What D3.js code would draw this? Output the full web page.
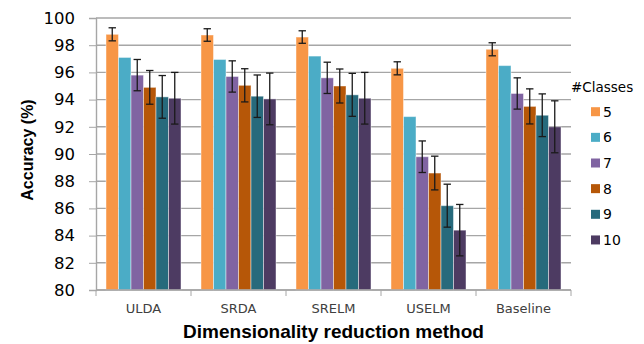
<!DOCTYPE html>
<html>
<head>
<meta charset="utf-8">
<script src="https://cdn.jsdelivr.net/npm/d3@7"></script>
<style>
  body { margin: 0; background: #fff; }
  svg { display: block; }
</style>
</head>
<body>
<div id="chart"></div>
<script>
// methods on the x axis
const methods = ["ULDA", "SRDA", "SRELM", "USELM", "Baseline"];
// number of classes (series)
const classes = ["5", "6", "7", "8", "9", "10"];
const colors = ["#F79646", "#4BACC6", "#8064A2", "#B65708", "#276A7C", "#4D3B62"];

// mean accuracy per method, one array per class count
const acc5  = [98.8, 98.75, 98.6, 96.3, 97.7];
const acc6  = [97.1, 96.95, 97.2, 92.75, 96.5];
const acc7  = [95.8, 95.7, 95.6, 89.8, 94.45];
const acc8  = [94.9, 95.05, 95.0, 88.6, 93.5];
const acc9  = [94.2, 94.25, 94.35, 86.2, 92.85];
const acc10 = [94.1, 94.05, 94.1, 84.4, 92.0];

// error bar half widths (no bars for 6 classes)
const err5  = [0.48, 0.46, 0.46, 0.48, 0.48];
const err6  = [0, 0, 0, 0, 0];
const err7  = [1.15, 1.15, 1.15, 1.16, 1.15];
const err8  = [1.24, 1.22, 1.25, 1.24, 1.29];
const err9  = [1.57, 1.56, 1.58, 1.58, 1.57];
const err10 = [1.9, 1.9, 1.9, 1.89, 1.91];

const yTicks = [80, 82, 84, 86, 88, 90, 92, 94, 96, 98, 100];

const accs = [acc5, acc6, acc7, acc8, acc9, acc10];
const errs = [err5, err6, err7, err8, err9, err10];

const data = [];
methods.forEach((m, i) => {
  classes.forEach((c, j) => {
    data.push({method: m, cls: c, value: accs[j][i], err: errs[j][i], color: colors[j]});
  });
});

const width = 644, height = 344;
const svg = d3.select("#chart").append("svg")
  .attr("width", width)
  .attr("height", height);

const plot = {left: 96, right: 571, top: 18, bottom: 290};

const y = d3.scaleLinear().domain([80, 100]).range([plot.bottom, plot.top]);
const x0 = d3.scaleBand().domain(methods).range([plot.left, plot.right]).padding(0);
const x1 = d3.scaleBand().domain(classes).range([10, x0.bandwidth() - 10]).padding(0);

// gridlines
svg.append("g")
  .selectAll("line")
  .data(yTicks)
  .join("line")
  .attr("x1", plot.left).attr("x2", plot.right)
  .attr("y1", d => y(d)).attr("y2", d => y(d))
  .attr("stroke", "#A6A6A6")
  .attr("stroke-width", 1.4);

// y axis
const yAxis = svg.append("g")
  .attr("transform", `translate(${plot.left},0)`)
  .call(d3.axisLeft(y).tickValues(yTicks).tickSize(7).tickPadding(14).tickFormat(d3.format("d")));
yAxis.select(".domain").attr("stroke", "#A6A6A6").attr("stroke-width", 1.4);
yAxis.selectAll(".tick line").attr("stroke", "#A6A6A6");
yAxis.selectAll("text")
  .attr("font-family", "DejaVu Sans, Verdana, sans-serif")
  .attr("font-size", 16.5)
  .attr("fill", "#000");

// bars
svg.append("g")
  .selectAll("rect")
  .data(data)
  .join("rect")
  .attr("x", d => x0(d.method) + x1(d.cls))
  .attr("y", d => y(d.value))
  .attr("width", x1.bandwidth())
  .attr("height", d => y(80) - y(d.value))
  .attr("fill", d => d.color)
  .attr("stroke", "rgba(255,255,255,0.45)")
  .attr("stroke-width", 1);

// error bars
const eb = svg.append("g")
  .selectAll("g")
  .data(data.filter(d => d.err > 0))
  .join("g")
  .attr("stroke", "#1a1a1a")
  .attr("stroke-width", 1.3);
eb.append("line")
  .attr("x1", d => x0(d.method) + x1(d.cls) + x1.bandwidth() / 2)
  .attr("x2", d => x0(d.method) + x1(d.cls) + x1.bandwidth() / 2)
  .attr("y1", d => y(d.value + d.err))
  .attr("y2", d => y(d.value - d.err));
eb.selectAll("line.cap")
  .data(d => [d.value + d.err, d.value - d.err].map(v => ({v, cx: x0(d.method) + x1(d.cls) + x1.bandwidth() / 2})))
  .join("line")
  .attr("class", "cap")
  .attr("x1", d => d.cx - 3.7)
  .attr("x2", d => d.cx + 3.7)
  .attr("y1", d => y(d.v))
  .attr("y2", d => y(d.v));

// x axis
const xAxis = svg.append("g")
  .attr("transform", `translate(0,${plot.bottom})`);
xAxis.append("line")
  .attr("x1", plot.left).attr("x2", plot.right)
  .attr("stroke", "#A6A6A6").attr("stroke-width", 1.4);
xAxis.selectAll("line.tick")
  .data(methods.concat(["end"]))
  .join("line")
  .attr("class", "tick")
  .attr("x1", (d, i) => i < methods.length ? x0(d) : plot.right)
  .attr("x2", (d, i) => i < methods.length ? x0(d) : plot.right)
  .attr("y1", 0).attr("y2", 6)
  .attr("stroke", "#A6A6A6");
xAxis.selectAll("text")
  .data(methods)
  .join("text")
  .attr("x", d => x0(d) + x0.bandwidth() / 2)
  .attr("y", 23)
  .attr("text-anchor", "middle")
  .attr("font-family", "DejaVu Sans, Verdana, sans-serif")
  .attr("font-size", 13)
  .attr("fill", "#404040")
  .text(d => d);

// axis titles
svg.append("text")
  .attr("x", (plot.left + plot.right) / 2)
  .attr("y", 338)
  .attr("text-anchor", "middle")
  .attr("font-family", "Liberation Sans, Arial, sans-serif")
  .attr("font-weight", "bold")
  .attr("font-size", 19)
  .text("Dimensionality reduction method");

svg.append("text")
  .attr("transform", `translate(33,150) rotate(-90)`)
  .attr("text-anchor", "middle")
  .attr("font-family", "Liberation Sans, Arial, sans-serif")
  .attr("font-weight", "bold")
  .attr("font-size", 16)
  .text("Accuracy (%)");

// legend
const legend = svg.append("g").attr("transform", "translate(571,0)");
legend.append("text")
  .attr("x", 0).attr("y", 92)
  .attr("font-family", "DejaVu Sans, Verdana, sans-serif")
  .attr("font-size", 13.5)
  .attr("fill", "#000")
  .text("#Classes");
const li = legend.selectAll("g.item")
  .data(classes)
  .join("g")
  .attr("class", "item")
  .attr("transform", (d, i) => `translate(20,${111.7 + i * 25.65})`);
li.append("rect")
  .attr("x", 0).attr("y", -4.5)
  .attr("width", 9).attr("height", 9)
  .attr("fill", (d, i) => colors[i]);
li.append("text")
  .attr("x", 12).attr("y", 5)
  .attr("font-family", "DejaVu Sans, Verdana, sans-serif")
  .attr("font-size", 14)
  .attr("fill", "#000")
  .text(d => d);
</script>
</body>
</html>
